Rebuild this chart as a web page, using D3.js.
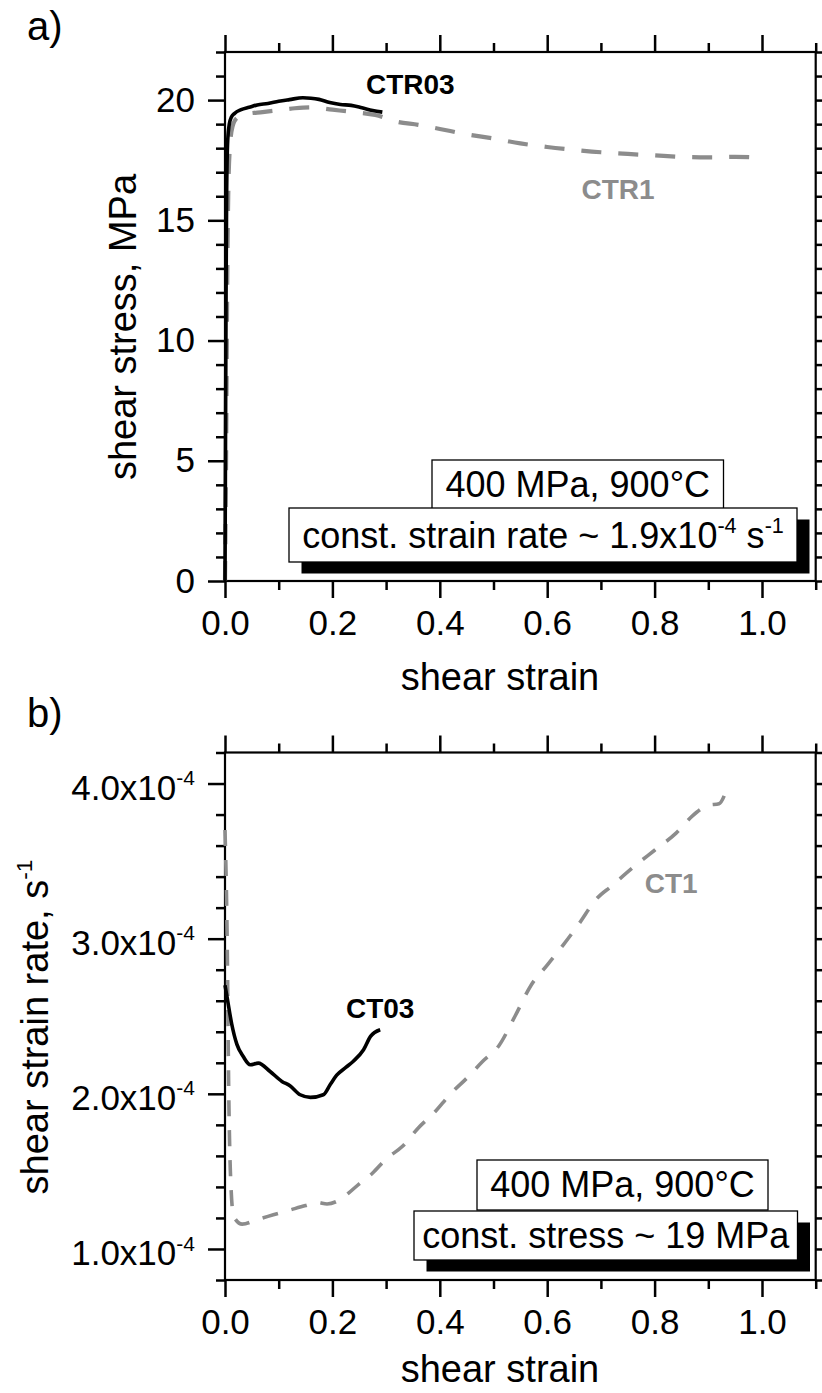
<!DOCTYPE html>
<html>
<head>
<meta charset="utf-8">
<script src="https://cdn.jsdelivr.net/npm/d3@7"></script>
<style>
  body { margin: 0; background: #fff; }
  svg { display: block; font-family: Arial, "Liberation Sans", sans-serif; }
</style>
</head>
<body>
<svg id="chart" width="822" height="1393"></svg>
<script>
// ---------- data ----------
// panel a) shear stress (MPa) vs shear strain
const ctr03Strain = [0, 0.001, 0.002, 0.003, 0.005, 0.008, 0.012, 0.018, 0.03, 0.045, 0.06, 0.08, 0.1, 0.12, 0.145, 0.16, 0.175, 0.195, 0.215, 0.235, 0.255, 0.275, 0.293];
const ctr03Stress = [0, 6, 12, 16, 18.3, 19.0, 19.3, 19.45, 19.6, 19.7, 19.8, 19.86, 19.95, 20.02, 20.1, 20.08, 20.03, 19.9, 19.82, 19.78, 19.68, 19.57, 19.5];

const ctr1Strain = [0, 0.002, 0.004, 0.006, 0.009, 0.014, 0.022, 0.04, 0.07, 0.1, 0.13, 0.16, 0.2, 0.24, 0.28, 0.32, 0.36, 0.4, 0.45, 0.5, 0.55, 0.6, 0.65, 0.7, 0.75, 0.8, 0.85, 0.9, 0.95, 1.0];
const ctr1Stress = [0, 5, 12, 16, 18, 18.9, 19.25, 19.42, 19.5, 19.58, 19.66, 19.7, 19.6, 19.5, 19.38, 19.1, 18.97, 18.8, 18.58, 18.4, 18.2, 18.05, 17.93, 17.83, 17.76, 17.7, 17.64, 17.62, 17.64, 17.6];

// panel b) shear strain rate (x1e-4 s^-1) vs shear strain
const ct03Strain = [0, 0.004, 0.0125, 0.022, 0.034, 0.047, 0.062, 0.084, 0.106, 0.121, 0.14, 0.159, 0.183, 0.196, 0.208, 0.225, 0.239, 0.258, 0.271, 0.289];
const ct03Rate = [2.7, 2.62, 2.45, 2.32, 2.24, 2.187, 2.198, 2.144, 2.08, 2.052, 1.994, 1.977, 1.994, 2.06, 2.12, 2.17, 2.21, 2.284, 2.37, 2.413];

const ct1Strain = [0, 0.004, 0.007, 0.01, 0.016, 0.032, 0.06, 0.09, 0.12, 0.15, 0.172, 0.19, 0.21, 0.23, 0.25, 0.275, 0.3, 0.33, 0.36, 0.39, 0.42, 0.45, 0.48, 0.51, 0.54, 0.57, 0.6, 0.63, 0.66, 0.69, 0.72, 0.76, 0.8, 0.84, 0.87, 0.9, 0.92, 0.935];
const ct1Rate = [3.7, 3.0, 2.0, 1.5, 1.21, 1.16, 1.19, 1.22, 1.25, 1.28, 1.3, 1.29, 1.31, 1.36, 1.42, 1.49, 1.58, 1.66, 1.78, 1.88, 2.0, 2.1, 2.21, 2.31, 2.5, 2.7, 2.83, 2.96, 3.1, 3.25, 3.34, 3.46, 3.57, 3.68, 3.79, 3.86, 3.87, 3.97];

// ticks
const strainMajor = [0, 0.2, 0.4, 0.6, 0.8, 1.0];
const strainMinor = [0.1, 0.3, 0.5, 0.7, 0.9, 1.1];
const stressMajor = [0, 5, 10, 15, 20];
const stressMinor = [1, 2, 3, 4, 6, 7, 8, 9, 11, 12, 13, 14, 16, 17, 18, 19, 21, 22];
const rateMajor = [1, 2, 3, 4];
const rateMinor = [0.8, 1.2, 1.4, 1.6, 1.8, 2.2, 2.4, 2.6, 2.8, 3.2, 3.4, 3.6, 3.8, 4.2];

// texts
const notesA = ["400 MPa, 900°C", "const. strain rate ~ 1.9x10^-4 s^-1"];
const notesB = ["400 MPa, 900°C", "const. stress ~ 19 MPa"];
const labelsA = [{ text: "CTR03", strain: 0.345, value: 20.25, color: "#000" },
                 { text: "CTR1", strain: 0.732, value: 15.9, color: "#8c8c8c" }];
const labelsB = [{ text: "CT03", strain: 0.289, value: 2.49, color: "#000" },
                 { text: "CT1", strain: 0.831, value: 3.295, color: "#8c8c8c" }];

const svg = d3.select("#chart");
const gray = "#8c8c8c";

// text with ^sup parts
function richText(sel, str, size) {
  const parts = str.split(/\^(-?\d+)/);
  const shift = size * 0.42;
  parts.forEach((p, i) => {
    if (!p) return;
    const t = sel.append("tspan").text(p);
    if (i % 2 === 1) t.attr("font-size", size * 0.6).attr("dy", -shift);
    else if (i > 0) t.attr("dy", shift);
  });
}

function drawPanel(cfg) {
  const x = d3.scaleLinear().domain([0, 1.1]).range([cfg.left, cfg.right]);
  const y = d3.scaleLinear().domain(cfg.yDomain).range([cfg.bottom, cfg.top]);
  const g = svg.append("g");

  const styleAxis = a => {
    a.select(".domain").remove();
    a.selectAll(".tick line").attr("stroke", "#000").attr("stroke-width", 2.5);
    a.selectAll(".tick text").attr("fill", "#000").attr("font-size", 35);
  };

  // minor + major ticks, all four sides
  const sides = [
    [d3.axisBottom, x, `translate(0,${cfg.bottom})`, strainMajor, strainMinor, true],
    [d3.axisTop, x, `translate(0,${cfg.top})`, strainMajor, strainMinor, false],
    [d3.axisLeft, y, `translate(${cfg.left},0)`, cfg.yMajor, cfg.yMinor, true],
    [d3.axisRight, y, `translate(${cfg.right},0)`, cfg.yMajor, cfg.yMinor, false]
  ];
  sides.forEach(([axisFn, scale, tr, major, minor, labelled], k) => {
    g.append("g").attr("transform", tr)
      .call(axisFn(scale).tickValues(minor).tickSize(9).tickSizeOuter(0).tickFormat(""))
      .call(styleAxis);
    const a = axisFn(scale).tickValues(major).tickSize(17).tickSizeOuter(0)
      .tickPadding(k === 0 ? 12 : 13)
      .tickFormat(labelled ? (k === 0 ? d3.format(".1f") : cfg.yFormat) : "");
    const ag = g.append("g").attr("transform", tr).call(a).call(styleAxis);
    if (labelled && k === 2 && cfg.sciLabels) {
      ag.selectAll(".tick text").attr("dy", "0.45em").each(function (d) {
        const t = d3.select(this).text(null);
        richText(t, d.toFixed(1) + "x10^-4", 35);
      });
    }
  });

  // frame
  g.append("rect")
    .attr("x", cfg.left).attr("y", cfg.top)
    .attr("width", cfg.right - cfg.left).attr("height", cfg.bottom - cfg.top)
    .attr("fill", "none").attr("stroke", "#000").attr("stroke-width", 2.2);

  const line = d3.line().x(d => x(d[0])).y(d => y(d[1])).curve(d3.curveMonotoneX);

  g.append("path")
    .datum(d3.zip(cfg.gray[0], cfg.gray[1]))
    .attr("d", line).attr("fill", "none")
    .attr("stroke", gray).attr("stroke-width", cfg.dashWidth)
    .attr("stroke-dasharray", cfg.dash);

  g.append("path")
    .datum(d3.zip(cfg.black[0], cfg.black[1]))
    .attr("d", line).attr("fill", "none")
    .attr("stroke", "#000").attr("stroke-width", 3.6)
    .attr("stroke-linejoin", "round");

  // curve labels
  g.selectAll(".clabel").data(cfg.labels).enter().append("text")
    .attr("x", d => x(d.strain)).attr("y", d => y(d.value))
    .attr("text-anchor", "middle").attr("font-size", 28).attr("font-weight", "bold")
    .attr("fill", d => d.color).text(d => d.text);

  // note boxes
  const [b1, b2] = cfg.boxes;
  g.append("rect").attr("x", b2[0] + 12.5).attr("y", b2[1] + 11.5)
    .attr("width", b2[2] - b2[0]).attr("height", b2[3] - b2[1]).attr("fill", "#000");
  [b1, b2].forEach((b, i) => {
    g.append("rect").attr("x", b[0]).attr("y", b[1])
      .attr("width", b[2] - b[0]).attr("height", b[3] - b[1])
      .attr("fill", "#fff").attr("stroke", "#000").attr("stroke-width", 1.3);
    const t = g.append("text")
      .attr("x", (b[0] + b[2]) / 2).attr("y", (b[1] + b[3]) / 2 + cfg.noteShift[i])
      .attr("text-anchor", "middle").attr("font-size", 36);
    richText(t, cfg.notes[i], 36);
  });

  // axis titles
  g.append("text").attr("x", 500).attr("y", cfg.xTitleY)
    .attr("text-anchor", "middle").attr("font-size", 38).text("shear strain");
  const yt = g.append("text")
    .attr("transform", `translate(${cfg.yTitleX},${cfg.yTitleY}) rotate(-90)`)
    .attr("text-anchor", "middle").attr("font-size", 38);
  richText(yt, cfg.yTitle, 38);

  g.append("text").attr("x", 27).attr("y", cfg.panelY)
    .attr("font-size", 40).text(cfg.panel);
}

drawPanel({
  left: 225, right: 815.7, top: 52, bottom: 581,
  yDomain: [0, 22], yMajor: stressMajor, yMinor: stressMinor, yFormat: d3.format("d"),
  black: [ctr03Strain, ctr03Stress], gray: [ctr1Strain, ctr1Stress],
  dash: "20,17", dashWidth: 4.2,
  labels: labelsA, notes: notesA,
  boxes: [[432, 460, 723.5, 509], [289, 508, 797, 562]], noteShift: [12, 13],
  xTitleY: 690, yTitle: "shear stress, MPa", yTitleX: 136, yTitleY: 327,
  panel: "a)", panelY: 40
});

drawPanel({
  left: 225, right: 815.7, top: 752.5, bottom: 1280,
  yDomain: [0.8, 4.2], yMajor: rateMajor, yMinor: rateMinor, sciLabels: true,
  black: [ct03Strain, ct03Rate], gray: [ct1Strain, ct1Rate],
  dash: "16,14", dashWidth: 3.6,
  labels: labelsB, notes: notesB,
  boxes: [[477, 1160, 768, 1210], [414, 1211, 797.5, 1260]], noteShift: [12, 12],
  xTitleY: 1382, yTitle: "shear strain rate, s^-1", yTitleX: 48, yTitleY: 1027,
  panel: "b)", panelY: 727
});
</script>
</body>
</html>
